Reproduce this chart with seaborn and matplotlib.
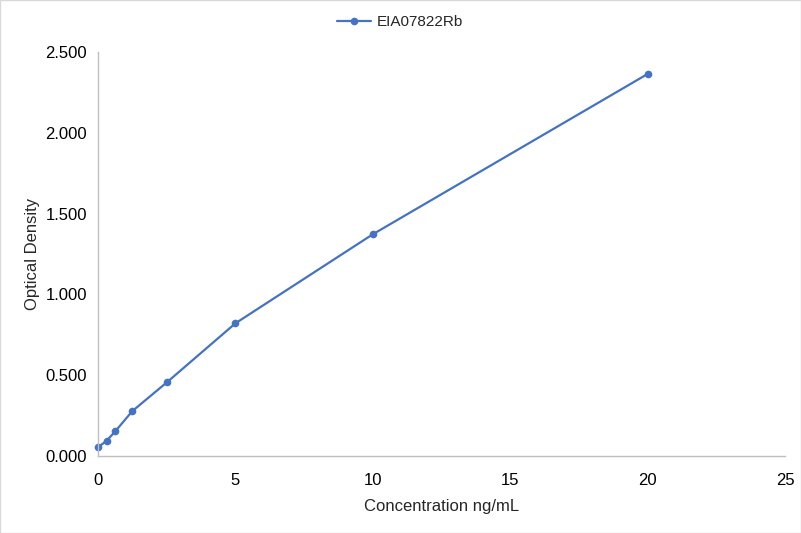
import matplotlib
matplotlib.use("Agg")
import matplotlib.pyplot as plt
import seaborn as sns
import pandas as pd
from matplotlib.ticker import FormatStrFormatter, MultipleLocator

conc = [0, 0.3125, 0.625, 1.25, 2.5, 5, 10, 20]
od = [0.054, 0.094, 0.152, 0.278, 0.455, 0.821, 1.372, 2.364]
series_name = "EIA07822Rb"

df = pd.DataFrame({"conc": conc, "od": od, "series": series_name})

sns.set_theme(style="white")
plt.rcParams["font.family"] = ["Liberation Sans", "DejaVu Sans"]

fig = plt.figure(figsize=(8.01, 5.33), dpi=100)
ax = fig.add_axes([98/801, 1-456/533, (785-98)/801, (456-52)/533])

sns.lineplot(data=df, x="conc", y="od", hue="series", palette=["#4472C4"],
             marker="o", markersize=5.5, markeredgewidth=0, linewidth=1.6, ax=ax,
             legend=True)
for ln in ax.lines:
    ln.set_clip_on(False)

ax.set_xlim(0, 25)
ax.set_ylim(0, 2.5)
ax.xaxis.set_major_locator(MultipleLocator(5))
ax.yaxis.set_major_locator(MultipleLocator(0.5))
ax.yaxis.set_major_formatter(FormatStrFormatter("%.3f"))
ax.tick_params(axis="both", labelsize=12, labelcolor="black", length=0)
ax.tick_params(axis="x", pad=12)
ax.tick_params(axis="y", pad=8)
ax.set_xlabel("Concentration ng/mL", fontsize=12, labelpad=8)
ax.set_ylabel("Optical Density", fontsize=12, labelpad=4)
for s in ["top", "right"]:
    ax.spines[s].set_visible(False)
for s in ["left", "bottom"]:
    ax.spines[s].set_color("#BFBFBF")
    ax.spines[s].set_linewidth(1)

handles, labels = ax.get_legend_handles_labels()
ax.get_legend().remove()
fig.legend(handles, labels, loc="center", bbox_to_anchor=(400/801, 1-22/533),
           frameon=False, fontsize=11, handlelength=2.2, handletextpad=0.4)

fig.patches.append(plt.Rectangle((0, 0), 1, 1, transform=fig.transFigure,
                                 fill=False, edgecolor="#D9D9D9", linewidth=1))
fig.savefig("out.png", dpi=100)
